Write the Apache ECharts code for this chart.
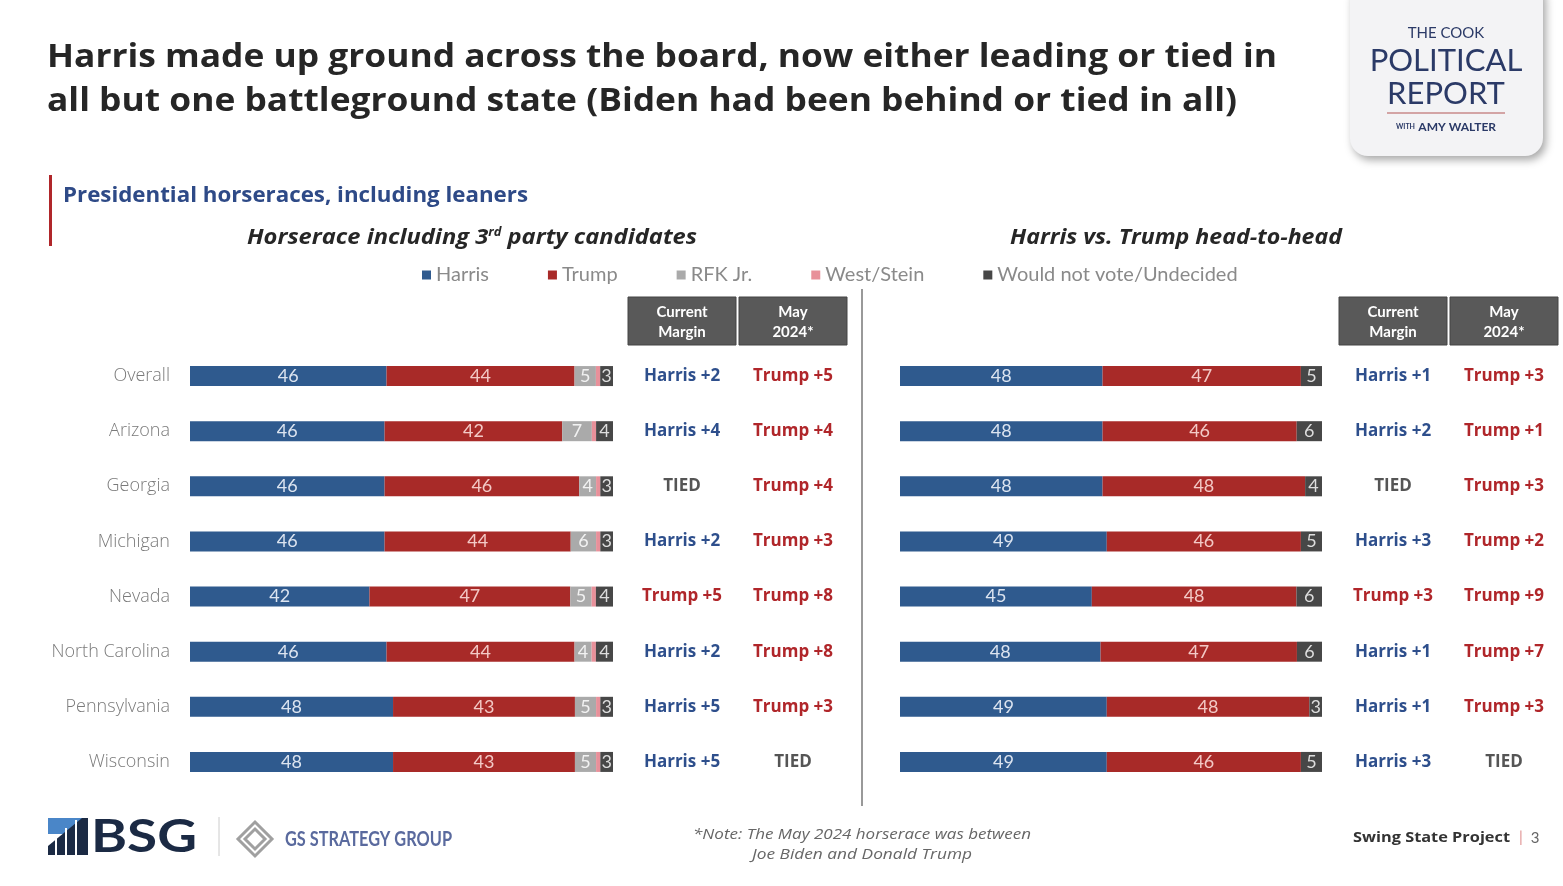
<!DOCTYPE html>
<html><head><meta charset="utf-8">
<script src="https://cdn.jsdelivr.net/npm/echarts/dist/echarts.min.js"></script>
<style>html,body{margin:0;padding:0;background:#fff}#c{width:1563px;height:886px}</style>
</head><body><div id="c"></div><script>
const states = ['Overall','Arizona','Georgia','Michigan','Nevada','North Carolina','Pennsylvania','Wisconsin'];
const harris3 = [46,46,46,46,42,46,48,48];
const trump3 = [44,42,46,44,47,44,43,43];
const rfk3 = [5,7,4,6,5,4,5,5];
const westStein3 = [1,1,1,1,1,1,1,1];
const undecided3 = [3,4,3,3,4,4,3,3];
const margin3 = ['Harris +2','Harris +4','TIED','Harris +2','Trump +5','Harris +2','Harris +5','Harris +5'];
const may3 = ['Trump +5','Trump +4','Trump +4','Trump +3','Trump +8','Trump +8','Trump +3','TIED'];
const harrisH2H = [48,48,48,49,45,48,49,49];
const trumpH2H = [47,46,48,46,48,47,48,46];
const undecidedH2H = [5,6,4,5,6,6,3,5];
const marginH2H = ['Harris +1','Harris +2','TIED','Harris +3','Trump +3','Harris +1','Harris +1','Harris +3'];
const mayH2H = ['Trump +3','Trump +1','Trump +3','Trump +2','Trump +9','Trump +7','Trump +3','TIED'];
const legendNames = ['Harris','Trump','RFK Jr.','West/Stein','Would not vote/Undecided'];

const C = {harris:'#2F5A8E', trump:'#A82A28', rfk:'#AAAAAA', ws:'#E8909A', und:'#474747'};
const F = 'Lato, "Open Sans", sans-serif';
const O = '"Open Sans", Lato, sans-serif';

const tot3 = states.map((s,i)=>harris3[i]+trump3[i]+rfk3[i]+westStein3[i]+undecided3[i]);
const totH = states.map((s,i)=>harrisH2H[i]+trumpH2H[i]+undecidedH2H[i]);
const norm = (arr, tot) => arr.map((v,i)=>({value: v*100/tot[i], raw: v}));

const mctx = document.createElement('canvas').getContext('2d');
function measure(text, font){ mctx.font = font; return mctx.measureText(text).width; }

function barSeries(name, arr, tot, color, labelColor, axis, stack, showLabel){
  return {
    name, type:'bar', stack, xAxisIndex: axis, yAxisIndex: axis*3,
    data: norm(arr, tot), barWidth: 20,
    itemStyle:{color},
    label:{show: showLabel, position:'inside', color: labelColor, fontSize:18, fontFamily:F,
      formatter: p => p.data.raw},
    emphasis:{disabled:true}, animation:false
  };
}
const marginColor = v => v.indexOf('Harris')===0 ? '#2E4F8C' : (v.indexOf('Trump')===0 ? '#B0262A' : '#555555');
function marginAxis(grid, data, margin){
  return {type:'category', gridIndex:grid, data, inverse:true, position:'right',
    axisLine:{show:false}, axisTick:{show:false},
    axisLabel:{show:true, margin, align:'center', fontWeight:'bold', fontSize:17, fontFamily:O,
      color: marginColor}};
}

const txt = (text, x, y, font, fill, align) => ({type:'text', style:{text, x, y, font, fill, textAlign: align||'left', textVerticalAlign:'middle'}});
function fit(text, x, y, font, fill, align, w){
  const m = measure(text, font);
  const el = txt(text, 0, 0, font, fill, align);
  el.x = x; el.y = y; el.scaleX = w / m;
  return el;
}
function header(x, l1, l2){
  return [
    {type:'rect', shape:{x, y:297, width:108, height:48}, style:{fill:'#595959', stroke:'#444', lineWidth:1}},
    txt(l1, x+54, 312, 'bold 15px '+F, '#fff', 'center'),
    txt(l2, x+54, 332, 'bold 15px '+F, '#fff', 'center')
  ];
}
const sA = 'italic bold 22px '+O, sS = 'italic bold 12px '+O;
const sw = measure('Horserace including 3', sA) + measure('rd', sS) + measure(' party candidates', sA);
const sec1 = {type:'text', x:472, y:238, scaleX: 450/sw, style:{x:0, y:0, textAlign:'center', textVerticalAlign:'middle',
    text:'{a|Horserace including 3}{s|rd}{a| party candidates}',
    rich:{a:{font:sA, fill:'#262626'}, s:{font:sS, fill:'#262626', verticalAlign:'top', padding:[0,0,10,0]}}}};

const graphic = [
  fit('Harris made up ground across the board, now either leading or tied in', 47, 58, 'bold 33px '+O, '#262626', 'left', 1230),
  fit('all but one battleground state (Biden had been behind or tied in all)', 47, 102, 'bold 33px '+O, '#262626', 'left', 1190),
  {type:'rect', shape:{x:49, y:175, width:3, height:71}, style:{fill:'#B0262A'}},
  fit('Presidential horseraces, including leaners', 63, 196, 'bold 21px '+O, '#2E4A87', 'left', 465),
  sec1,
  fit('Harris vs. Trump head-to-head', 1176, 238, 'italic bold 22px '+O, '#262626', 'center', 332),
  {type:'line', shape:{x1:862, y1:289, x2:862, y2:806}, style:{stroke:'#999', lineWidth:2}},
  ...header(628,'Current','Margin'), ...header(739,'May','2024*'),
  ...header(1339,'Current','Margin'), ...header(1450,'May','2024*'),
  {type:'rect', shape:{x:1350, y:-20, width:193, height:176, r:18}, style:{fill:'#F3F3F5', shadowBlur:8, shadowColor:'rgba(0,0,0,0.35)', shadowOffsetX:3, shadowOffsetY:4}},
  txt('THE COOK', 1446, 33, '15px '+F, '#2B3A67', 'center'),
  txt('POLITICAL', 1446, 61, '31px '+F, '#2B3A67', 'center'),
  txt('REPORT', 1446, 94, '31px '+F, '#2B3A67', 'center'),
  {type:'line', shape:{x1:1387, y1:113, x2:1505, y2:113}, style:{stroke:'#C98A8A', lineWidth:1.5}},
  {type:'text', style:{x:1446, y:127, textAlign:'center', textVerticalAlign:'middle', text:'{w|WITH} {a|AMY WALTER}',
    rich:{w:{font:'bold 7px '+F, fill:'#2B3A67'}, a:{font:'bold 12px '+F, fill:'#2B3A67'}}}},
  {type:'rect', shape:{x:48, y:818, width:34, height:16}, style:{fill:'#4A86C8'}},
  {type:'polygon', shape:{points:[[48,855],[48,846],[82,818],[88,818],[88,855]]}, style:{fill:'#1B2A44'}},
  {type:'rect', shape:{x:55, y:836, width:2, height:19}, style:{fill:'#fff'}},
  {type:'rect', shape:{x:65, y:828, width:2, height:27}, style:{fill:'#fff'}},
  {type:'rect', shape:{x:75, y:820, width:2, height:35}, style:{fill:'#fff'}},
  fit('BSG', 91, 837, 'bold 46px '+F, '#1B2A44', 'left', 106),
  {type:'line', shape:{x1:219, y1:817, x2:219, y2:856}, style:{stroke:'#ccc', lineWidth:1}},
  {type:'polygon', shape:{points:[[255,822],[272,839],[255,856],[238,839]]}, style:{fill:'none', stroke:'#A0A0A0', lineWidth:3}},
  {type:'polygon', shape:{points:[[255,829],[265,839],[255,849],[245,839]]}, style:{fill:'none', stroke:'#A0A0A0', lineWidth:3}},
  fit('GS STRATEGY GROUP', 285, 839, 'bold 21px '+F, '#5A6A9E', 'left', 167),
  fit('*Note: The May 2024 horserace was between', 862, 835, 'italic 15px '+O, '#666', 'center', 338),
  fit('Joe Biden and Donald Trump', 862, 855, 'italic 15px '+O, '#666', 'center', 220),
  fit('Swing State Project', 1510, 838, 'bold 15px '+O, '#333', 'right', 157),
  txt('|', 1521, 837, '15px '+F, '#E09090', 'center'),
  txt('3', 1535, 838, '15px '+F, '#666', 'center')
];

const chart = echarts.init(document.getElementById('c'), null, {renderer:'canvas'});
chart.setOption({
  animation:false,
  backgroundColor:'#fff',
  legend:{data:legendNames, left:417, top:260, icon:'rect', itemWidth:9, itemHeight:9, itemGap:59,
    textStyle:{color:'#8A8A8A', fontSize:20, fontFamily:F}, selectedMode:false},
  grid:[
    {left:190, width:423, top:348.5, height:441},
    {left:900, width:422, top:348.5, height:441}
  ],
  xAxis:[
    {type:'value', gridIndex:0, min:0, max:100, show:false},
    {type:'value', gridIndex:1, min:0, max:100, show:false}
  ],
  yAxis:[
    {type:'category', gridIndex:0, data:states, inverse:true, axisLine:{show:false}, axisTick:{show:false},
      axisLabel:{margin:20, color:'#7A7A7A', fontSize:18, fontWeight:300, fontFamily:O}},
    marginAxis(0, margin3, 69), marginAxis(0, may3, 180),
    {type:'category', gridIndex:1, data:states, inverse:true, show:false},
    marginAxis(1, marginH2H, 71), marginAxis(1, mayH2H, 182)
  ],
  series:[
    barSeries('Harris', harris3, tot3, C.harris, '#DCE4F0', 0, 'L', true),
    barSeries('Trump', trump3, tot3, C.trump, '#F3C9C6', 0, 'L', true),
    barSeries('RFK Jr.', rfk3, tot3, C.rfk, '#F2F2F2', 0, 'L', true),
    barSeries('West/Stein', westStein3, tot3, C.ws, '#fff', 0, 'L', false),
    barSeries('Would not vote/Undecided', undecided3, tot3, C.und, '#DDDDDD', 0, 'L', true),
    barSeries('Harris', harrisH2H, totH, C.harris, '#DCE4F0', 1, 'R', true),
    barSeries('Trump', trumpH2H, totH, C.trump, '#F3C9C6', 1, 'R', true),
    barSeries('Would not vote/Undecided', undecidedH2H, totH, C.und, '#DDDDDD', 1, 'R', true)
  ],
  graphic
});
</script></body></html>
